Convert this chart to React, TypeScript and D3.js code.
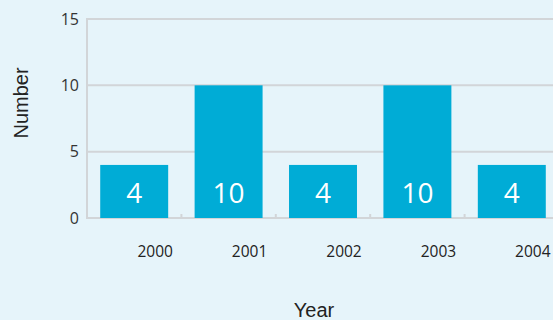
import React from "react";
import * as d3 from "d3";

const categories = ["2000", "2001", "2002", "2003", "2004"];
const values = [4, 10, 4, 10, 4];
const yTicks = [0, 5, 10, 15];

const W = 553;
const H = 320;

export default function App() {
  const x = d3
    .scaleBand<string>()
    .domain(categories)
    .range([87, 559])
    .paddingInner(0.28)
    .paddingOuter(0.14);
  const y = d3.scaleLinear().domain([0, 15]).range([218, 19]);
  const step = x.step();
  const bandStart = (c: string) => (x(c) as number) - step * 0.14;

  return (
    <svg
      width={W}
      height={H}
      style={{ position: "absolute", left: 0, top: 0, display: "block" }}
    >
      <rect x={0} y={0} width={W} height={H} fill="#e6f4fa" />
      {yTicks.map((t) => (
        <g key={t}>
          <line x1={87} x2={W} y1={y(t)} y2={y(t)} stroke="#d2d5d8" strokeWidth={2} />
          <text
            x={79}
            y={y(t)}
            dy="0.36em"
            textAnchor="end"
            fontFamily="'Open Sans', sans-serif"
            fontSize={16}
            fill="#333"
          >
            {t}
          </text>
        </g>
      ))}
      <line x1={87} x2={87} y1={y(15) - 1} y2={y(0) + 1} stroke="#d2d5d8" strokeWidth={2} />
      {categories.slice(1).map((c) => (
        <line
          key={"tk" + c}
          x1={bandStart(c)}
          x2={bandStart(c)}
          y1={y(0)}
          y2={y(0) - 4}
          stroke="#d2d5d8"
          strokeWidth={2}
        />
      ))}
      {categories.map((c, i) => (
        <g key={c}>
          <rect
            x={x(c)}
            y={y(values[i])}
            width={x.bandwidth()}
            height={y(0) - y(values[i])}
            fill="#00acd6"
          />
          <text
            x={(x(c) as number) + x.bandwidth() / 2}
            y={193}
            dy="0.36em"
            textAnchor="middle"
            fontFamily="'Open Sans', sans-serif"
            fontSize={28}
            fill="#ffffff"
          >
            {values[i]}
          </text>
          <text
            x={(x(c) as number) + x.bandwidth() / 2 + 21}
            y={257}
            textAnchor="middle"
            fontFamily="'Open Sans', sans-serif"
            fontSize={15.5}
            fill="#222"
          >
            {c}
          </text>
        </g>
      ))}
      <text
        x={314}
        y={317}
        textAnchor="middle"
        fontFamily="'Liberation Sans', Arial, sans-serif"
        fontSize={20}
        fill="#222"
      >
        Year
      </text>
      <text
        transform="translate(28,103) rotate(-90)"
        textAnchor="middle"
        fontFamily="'Liberation Sans', Arial, sans-serif"
        fontSize={20}
        fill="#222"
      >
        Number
      </text>
    </svg>
  );
}
